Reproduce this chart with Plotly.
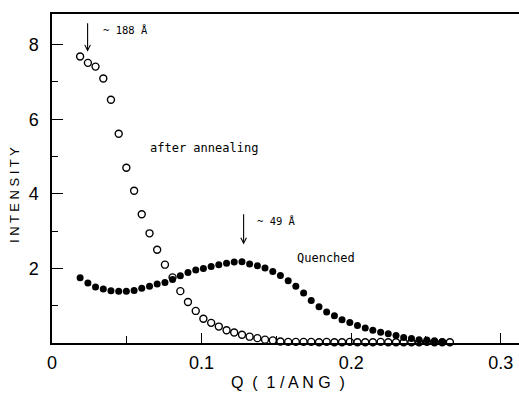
import plotly.graph_objects as go

# Q values (1/ANG)
q = [0.0188, 0.0240, 0.0291, 0.0343, 0.0394, 0.0446, 0.0497, 0.0549, 0.0600, 0.0652,
     0.0703, 0.0755, 0.0806, 0.0858, 0.0909, 0.0961, 0.1012, 0.1064, 0.1115, 0.1167,
     0.1218, 0.1270, 0.1321, 0.1373, 0.1424, 0.1476, 0.1527, 0.1579, 0.1630, 0.1682,
     0.1733, 0.1785, 0.1836, 0.1888, 0.1939, 0.1991, 0.2042, 0.2094, 0.2145, 0.2197,
     0.2248, 0.2300, 0.2351, 0.2403, 0.2454, 0.2506, 0.2557, 0.2609, 0.2660]

annealed = [7.68, 7.51, 7.41, 7.09, 6.52, 5.61, 4.70, 4.08, 3.45, 2.94,
            2.50, 2.10, 1.76, 1.39, 1.10, 0.86, 0.65, 0.54, 0.44, 0.34,
            0.28, 0.22, 0.17, 0.13, 0.09, 0.07, 0.04, 0.03, 0.03, 0.03,
            0.03, 0.02, 0.03, 0.02, 0.02, 0.03, 0.02, 0.02, 0.02, 0.03,
            0.02, 0.02, 0.02, 0.02, 0.02, 0.03, 0.02, 0.02, 0.02]

quenched = [1.75, 1.61, 1.50, 1.45, 1.40, 1.39, 1.39, 1.41, 1.47, 1.52,
            1.58, 1.62, 1.70, 1.80, 1.89, 1.96, 2.00, 2.05, 2.10, 2.14,
            2.17, 2.18, 2.12, 2.07, 2.01, 1.92, 1.81, 1.67, 1.52, 1.34,
            1.14, 0.97, 0.83, 0.73, 0.62, 0.55, 0.47, 0.40, 0.34, 0.29,
            0.25, 0.20, 0.15, 0.12, 0.09, 0.08, 0.06, 0.035]

x_ticks = [0, 0.1, 0.2, 0.3]
x_labels = ["0", "0.1", "0.2", "0.3"]
y_ticks = [2, 4, 6, 8]
y_labels = ["2", "4", "6", "8"]

fig = go.Figure()
fig.add_trace(go.Scatter(
    x=q[:len(annealed)], y=annealed, mode="markers", cliponaxis=False,
    marker=dict(symbol="circle-open", size=7, color="black", line=dict(width=1.4)),
    name="after annealing"))
fig.add_trace(go.Scatter(
    x=q[:len(quenched)], y=quenched, mode="markers", cliponaxis=False,
    marker=dict(symbol="circle", size=7, color="black"),
    name="Quenched"))

tick_font = dict(family="Liberation Sans", size=18, color="black")
lab_font = dict(family="DejaVu Sans Mono", size=12, color="black")
small_font = dict(family="DejaVu Sans Mono", size=10.5, color="black")

fig.update_layout(
    width=519, height=393,
    margin=dict(l=52, r=0, t=14, b=50),
    paper_bgcolor="white", plot_bgcolor="white",
    showlegend=False,
    xaxis=dict(range=[0, 0.3122], tickvals=x_ticks, ticktext=x_labels,
               ticks="inside", ticklen=10, tickwidth=1.3, tickcolor="black",
               minor=dict(tickvals=[0.05, 0.15, 0.25], ticks="inside", ticklen=7,
                          tickwidth=1.3, tickcolor="black"),
               showline=True, linecolor="black", linewidth=1.5, mirror=True,
               showgrid=False, zeroline=False, tickfont=tick_font,
               ticklabelstandoff=3),
    yaxis=dict(range=[0, 8.82], tickvals=y_ticks, ticktext=y_labels,
               ticks="inside", ticklen=11, tickwidth=1.3, tickcolor="black",
               minor=dict(tickvals=[1, 3, 5, 7], ticks="inside", ticklen=6,
                          tickwidth=1.3, tickcolor="black"),
               showline=True, linecolor="black", linewidth=1.5,
               showgrid=False, zeroline=False, tickfont=tick_font,
               ticklabelstandoff=8),
)

annotations = [
    dict(x=0.505, y=-0.12, xref="paper", yref="paper", text="Q  (  1 / A N G  )",
         showarrow=False, xanchor="center", yanchor="middle",
         font=dict(family="Liberation Sans", size=16, color="black")),
    dict(x=-0.079, y=0.45, xref="paper", yref="paper", text="I N T E N S I T Y",
         showarrow=False, textangle=-90, xanchor="center", yanchor="middle",
         font=dict(family="Liberation Sans", size=13, color="black")),
    dict(x=0.064, y=5.24, text="after annealing", showarrow=False,
         xanchor="left", yanchor="middle", font=lab_font),
    dict(x=0.1622, y=2.29, text="Quenched", showarrow=False,
         xanchor="left", yanchor="middle", font=lab_font),
    dict(x=0.0326, y=8.40, text="~ 188 Å", showarrow=False,
         xanchor="left", yanchor="middle", font=small_font),
    dict(x=0.136, y=3.27, text="~ 49 Å", showarrow=False,
         xanchor="left", yanchor="middle", font=small_font),
    dict(x=0.0238, y=7.81, ax=0.0238, ay=8.61, axref="x", ayref="y", text="",
         showarrow=True, arrowhead=5, arrowsize=1, arrowwidth=1.1,
         arrowcolor="black", standoff=0),
    dict(x=0.1281, y=2.64, ax=0.1281, ay=3.49, axref="x", ayref="y", text="",
         showarrow=True, arrowhead=5, arrowsize=1, arrowwidth=1.1,
         arrowcolor="black", standoff=0),
]
fig.update_layout(annotations=annotations)

fig.write_html("out.html")
